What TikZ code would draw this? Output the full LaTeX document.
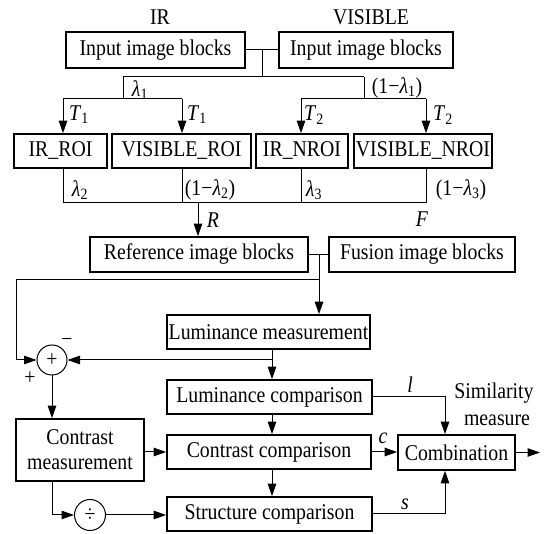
\documentclass[tikz,border=0pt]{standalone}
\usepackage{fontspec}
\setmainfont[FakeStretch=0.88]{Liberation Serif}
\usetikzlibrary{arrows.meta}
\tikzset{
  txt/.style={font=\fontsize{22.5pt}{25pt}\selectfont, inner sep=0pt},
  blk/.style={txt, draw, line width=1.7pt, align=center},
  circ/.style={txt, draw, circle, line width=1pt, minimum size=30pt},
  conn/.style={line width=1pt},
  arr/.style={conn, -{Triangle[length=12.5pt,width=8.5pt]}},
}
\newcommand{\lam}[1]{\textit{λ}\textsubscript{#1}}
\begin{document}
\begin{tikzpicture}[x=1pt,y=-1pt]
\useasboundingbox (0,0) rectangle (547,534);
% top
\node[txt] (irl) at (160,17) {IR};
\node[txt] (visl) at (371,17) {VISIBLE};
\node[blk, minimum width=179pt, minimum height=36pt] (irin) at (155.5,50) {Input image blocks};
\node[blk, minimum width=174pt, minimum height=36pt] (visin) at (366,50) {Input image blocks};
\coordinate (j1) at (262,50);
\coordinate (j1b) at (262,77);
\coordinate (a1) at (123,77);
\coordinate (a2) at (364,77);
\coordinate (b1) at (123,99);
\coordinate (b2) at (364,99);
\coordinate (c1) at (63,99);
\coordinate (c2) at (182,99);
\coordinate (c3) at (301,99);
\coordinate (c4) at (426,99);
\coordinate (hbar) at (0,203);
\draw[conn] (irin.east) -- (visin.west);
\draw[conn] (j1) -- (j1b);
\draw[conn] (a1) -- (a2);
\draw[conn] (a1) -- (b1);
\draw[conn] (a2) -- (b2);
\draw[conn] (c1) -- (c2);
\draw[conn] (c3) -- (c4);
\node[txt] (lam1) at (140,90) {\lam{1}};
\node[txt] (mlam1) at (397,88) {(1−\lam{1})};
% ROI row
\node[blk, minimum width=93pt, minimum height=34pt] (irroi) at (60.5,151) {IR\_ROI};
\node[blk, minimum width=139pt, minimum height=34pt] (visroi) at (181.5,151) {VISIBLE\_ROI};
\node[blk, minimum width=92pt, minimum height=34pt] (irnroi) at (302,151) {IR\_NROI};
\node[blk, minimum width=138pt, minimum height=34pt] (visnroi) at (423,151) {VISIBLE\_NROI};
\draw[arr] (c1) -- (c1 |- irroi.north);
\draw[arr] (c2) -- (c2 |- visroi.north);
\draw[arr] (c3) -- (c3 |- irnroi.north);
\draw[arr] (c4) -- (c4 |- visnroi.north);
\node[txt] (t1a) at (79,115) {\textit{T}\textsubscript{1}};
\node[txt] (t1b) at (197,115) {\textit{T}\textsubscript{1}};
\node[txt] (t2a) at (314,115) {\textit{T}\textsubscript{2}};
\node[txt] (t2b) at (443,115) {\textit{T}\textsubscript{2}};
\draw[conn] (c1 |- irroi.south) -- (c1 |- hbar) -- (c4 |- hbar) -- (c4 |- visnroi.south);
\draw[conn] (c2 |- visroi.south) -- (c2 |- hbar);
\draw[conn] (c3 |- irnroi.south) -- (c3 |- hbar);
\node[txt] (lam2) at (80,190) {\lam{2}};
\node[txt] (mlam2) at (210,190) {(1−\lam{2})};
\node[txt] (lam3) at (314,190) {\lam{3}};
\node[txt] (mlam3) at (461,190) {(1−\lam{3})};
% reference / fusion
\node[blk, minimum width=218pt, minimum height=35pt] (ref) at (199,254.5) {Reference image blocks};
\node[blk, minimum width=186pt, minimum height=35pt] (fus) at (422,254.5) {Fusion image blocks};
\coordinate (rr) at (198,203);
\draw[arr] (rr) -- (rr |- ref.north);
\node[txt] (rlab) at (213,220) {\textit{R}};
\node[txt] (flab) at (422,219) {\textit{F}};
\draw[conn] (ref.east) -- (fus.west);
\coordinate (j2) at (319,254.5);
\coordinate (k1) at (319,280);
\coordinate (k2) at (16,280);
% measurement
\node[blk, minimum width=203pt, minimum height=34pt] (lummeas) at (268.5,332) {Luminance measurement};
\node[circ] (plus) at (52,360) {+};
\draw[arr] (j2) -- (j2 |- lummeas.north);
\draw[conn] (k1) -- (k2);
\draw[arr] (k2) -- (k2 |- plus.west) -- (plus.west);
\node[txt] (minus) at (67,342) {−};
\node[txt] (pluslab) at (30,378) {+};
\node[blk, minimum width=205pt, minimum height=34pt] (lumcomp) at (269.5,397) {Luminance comparison};
\node[blk, minimum width=204pt, minimum height=34pt] (contcomp) at (269,452) {Contrast comparison};
\node[blk, minimum width=205pt, minimum height=34pt] (structcomp) at (269.5,514) {Structure comparison};
\coordinate (m1) at (272,360);
\draw[arr] (m1 |- lummeas.south) -- (m1 |- lumcomp.north);
\draw[arr] (m1) -- (plus.east);
\draw[arr] (m1 |- lumcomp.south) -- (m1 |- contcomp.north);
\draw[arr] (m1 |- contcomp.south) -- (m1 |- structcomp.north);
\node[blk, minimum width=128pt, minimum height=62pt] (contmeas) at (80,450) {Contrast\\measurement};
\draw[arr] (plus.south) -- (plus.south |- contmeas.north);
\draw[arr] (contcomp.west -| contmeas.east) -- (contcomp.west);
\node[circ, minimum size=31pt] (div) at (90,515) {÷};
\coordinate (d1) at (52,515);
\draw[arr] (d1 |- contmeas.south) -- (d1) -- (div.west);
\draw[arr] (div.east) -- (div.east -| structcomp.west);
% combination
\node[blk, minimum width=117pt, minimum height=35pt] (comb) at (456.5,452.5) {Combination};
\coordinate (e1) at (445,0);
\coordinate (out) at (540,452.5);
\draw[arr] (lumcomp.east) -- (lumcomp.east -| e1) -- (e1 |- comb.north);
\draw[arr] (contcomp.east) -- (contcomp.east -| comb.west);
\draw[arr] (structcomp.east) -- (structcomp.east -| e1) -- (e1 |- comb.south);
\draw[arr] (comb.east) -- (out);
\node[txt] (llab) at (410,385) {\textit{l}};
\node[txt] (clab) at (383,438) {\textit{c}};
\node[txt] (slab) at (405,504) {\textit{s}};
\node[txt] (sim1) at (494,393) {Similarity};
\node[txt] (sim2) at (497,420) {measure};
\end{tikzpicture}
\end{document}
